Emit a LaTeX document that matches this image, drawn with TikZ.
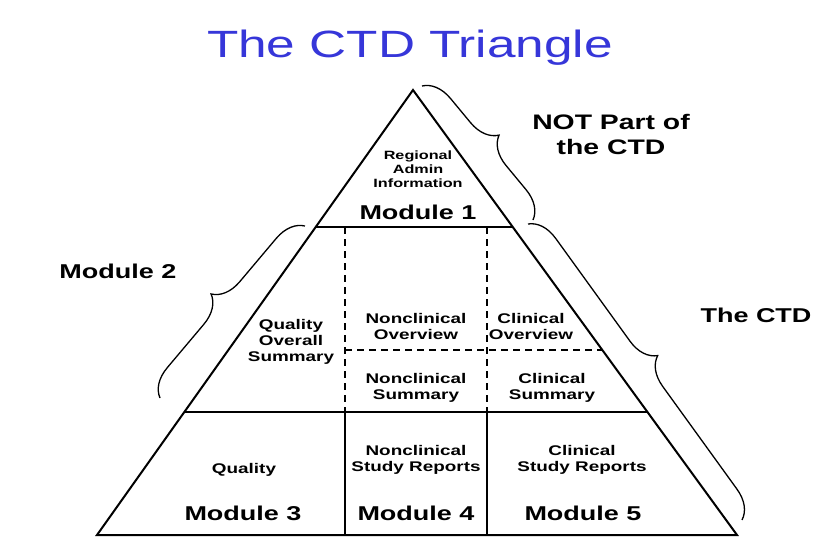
\documentclass[tikz,border=0pt]{standalone}
\usepackage{fontspec}
\setmainfont[FakeStretch=1.35]{Liberation Sans}
\usetikzlibrary{decorations.pathreplacing}
\begin{document}
\begin{tikzpicture}[x=1pt,y=-1pt,
  ln/.style={line width=2pt},
  dl/.style={line width=1.6pt,dash pattern=on 7pt off 5pt},
  sm/.style={font=\fontsize{14}{16}\selectfont\bfseries,align=center,inner sep=0},
  md/.style={font=\fontsize{20}{22}\selectfont\bfseries,inner sep=0},
  br/.style={line width=1.3pt,decorate,decoration={brace,amplitude=28pt}}]
\useasboundingbox (0,0) rectangle (832,554);
\coordinate (A) at (413,90); \coordinate (L) at (97,535); \coordinate (R) at (737,535);
\coordinate (l1) at (316,227); \coordinate (r1) at (513,227);
\coordinate (l2) at (184,412); \coordinate (r2) at (647,412);
\coordinate (rm) at (602,350);
\coordinate (a1) at (345,227); \coordinate (a2) at (345,412); \coordinate (a3) at (345,535);
\coordinate (b1) at (487,227); \coordinate (b2) at (487,412); \coordinate (b3) at (487,535);
\coordinate (d1) at (345,350);
\draw[ln,line join=miter] (A) -- (L) -- (R) -- cycle;
\draw[ln] (l1) -- (r1);
\draw[ln] (l2) -- (r2);
\draw[ln] (a2) -- (a3);
\draw[ln] (b2) -- (b3);
\draw[dl] (a1) -- (a2);
\draw[dl] (b1) -- (b2);
\draw[dl] (d1) -- (rm);
\node[font=\fontsize{38}{40}\selectfont,text=blue!75!white!85!black] (t) at (410,48) {The CTD Triangle};
\node[sm,font=\fontsize{12}{14}\selectfont\bfseries] (ra) at (418,169) {Regional\\Admin\\Information};
\node[md] (m1) at (418,212) {Module 1};
\node[sm] (q) at (291,342) {Quality\\Overall\\Summary};
\node[sm] (no) at (416,326) {Nonclinical\\Overview};
\node[sm] (co) at (531,326) {Clinical\\Overview};
\node[sm] (ns) at (416,388) {Nonclinical\\Summary};
\node[sm] (cs) at (552,388) {Clinical\\Summary};
\node[sm] (qu) at (244,470) {Quality};
\node[sm] (nsr) at (416,460) {Nonclinical\\Study Reports};
\node[sm] (csr) at (582,460) {Clinical\\Study Reports};
\node[md] (m3) at (243,513) {Module 3};
\node[md] (m4) at (416,513) {Module 4};
\node[md] (m5) at (583,513) {Module 5};
\node[md,font=\fontsize{21}{25}\selectfont\bfseries,align=center] (np) at (611,134) {NOT Part of\\the CTD};
\node[md,font=\fontsize{20}{22}\selectfont\bfseries] (m2) at (118,271) {Module 2};
\node[md,font=\fontsize{20}{22}\selectfont\bfseries] (ctd) at (756,315) {The CTD};
\coordinate (p1) at (422,86); \coordinate (p2) at (533,220);
\coordinate (p3) at (528,224); \coordinate (p4) at (742,520);
\coordinate (p5) at (305,226); \coordinate (p6) at (160,398);
\draw[br] (p1) -- (p2);
\draw[br] (p3) -- (p4);
\draw[br] (p6) -- (p5);
\end{tikzpicture}
\end{document}
